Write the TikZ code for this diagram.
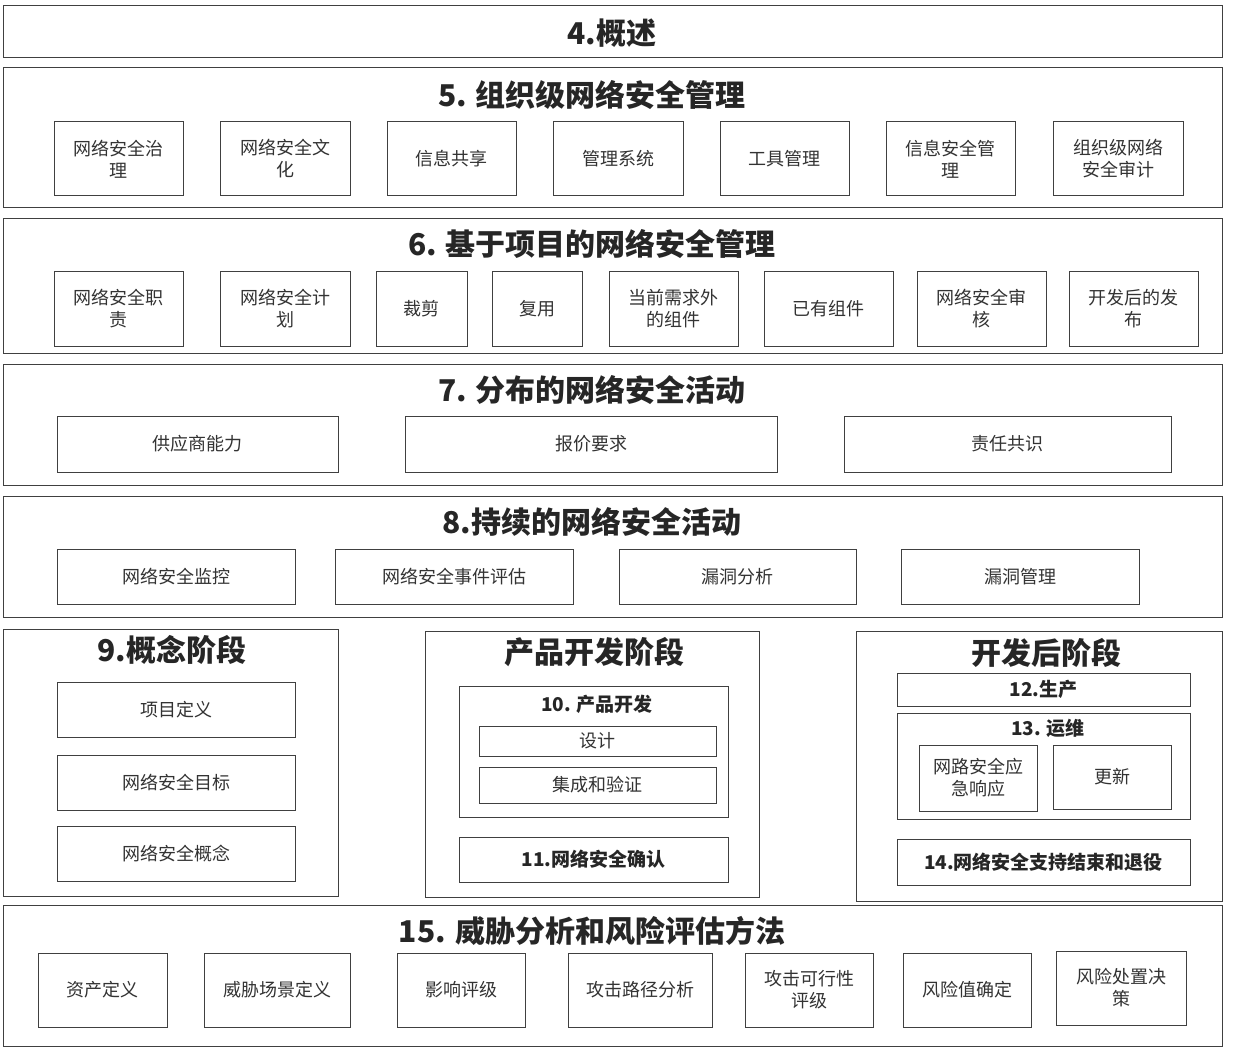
\documentclass[tikz,border=0pt]{standalone}
\usepackage{fontspec}
\setmainfont{Noto Sans CJK SC}
\tikzset{bx/.style={draw=black!75,line width=1pt,fill=white,align=center,inner sep=0pt,text=black!80,font=\fontsize{18}{22}\selectfont},
 big/.style={font=\fontsize{30}{33}\selectfont\bfseries,text=black!85},
 mid/.style={font=\fontsize{19}{23}\selectfont\bfseries,text=black!85}}
\newcommand\B[7][]{%
 \pgfmathsetmacro\cx{(#3+#5)/2}\pgfmathsetmacro\cy{(#4+#6)/2}%
 \pgfmathsetmacro\ww{#5-#3}\pgfmathsetmacro\hh{#6-#4}%
 \node[bx,#1,minimum width=\ww pt,minimum height=\hh pt] (#2) at (\cx,\cy) {#7};}
\newcommand\T[5][big]{\node[#1] (#2) at (#3,#4) {#5};}
\begin{document}
\begin{tikzpicture}[x=1pt,y=-1pt]
\useasboundingbox[fill=white] (0,0) rectangle (1236,1051);
\B{b4}{3}{6}{1222}{58}{}\T{t4}{612}{33}{4.概述}
\B{b5}{3}{68}{1222}{207}{}\T{t5}{592}{95}{5. 组织级网络安全管理}
\B{a1}{54}{122}{183}{196}{网络安全治\\理}
\B{a2}{220}{122}{350}{196}{网络安全文\\化}
\B{a3}{387}{122}{516}{196}{信息共享}
\B{a4}{553}{122}{683}{196}{管理系统}
\B{a5}{720}{122}{849}{196}{工具管理}
\B{a6}{886}{122}{1015}{196}{信息安全管\\理}
\B{a7}{1053}{122}{1183}{196}{组织级网络\\安全审计}
\B{b6}{3}{218}{1222}{353}{}\T{t6}{592}{244}{6. 基于项目的网络安全管理}
\B{c1}{54}{271}{183}{346}{网络安全职\\责}
\B{c2}{220}{271}{350}{346}{网络安全计\\划}
\B{c3}{376}{271}{467}{346}{裁剪}
\B{c4}{492}{271}{582}{346}{复用}
\B{c5}{609}{271}{738}{346}{当前需求外\\的组件}
\B{c6}{764}{271}{893}{346}{已有组件}
\B{c7}{917}{271}{1046}{346}{网络安全审\\核}
\B{c8}{1069}{271}{1198}{346}{开发后的发\\布}
\B{b7}{3}{364}{1222}{485}{}\T{t7}{592}{390}{7. 分布的网络安全活动}
\B{d1}{57}{416}{338}{472}{供应商能力}
\B{d2}{405}{416}{777}{472}{报价要求}
\B{d3}{844}{416}{1171}{472}{责任共识}
\B{b8}{3}{496}{1222}{617}{}\T{t8}{592}{522}{8.持续的网络安全活动}
\B{e1}{57}{549}{295}{604}{网络安全监控}
\B{e2}{335}{549}{573}{604}{网络安全事件评估}
\B{e3}{619}{549}{856}{604}{漏洞分析}
\B{e4}{901}{549}{1139}{604}{漏洞管理}
\B{b9}{3}{629}{338}{896}{}\T{t9}{172}{650}{9.概念阶段}
\B{f1}{57}{682}{295}{737}{项目定义}
\B{f2}{57}{755}{295}{810}{网络安全目标}
\B{f3}{57}{826}{295}{881}{网络安全概念}
\B{bp}{425}{631}{759}{897}{}\T{tp}{594}{652}{产品开发阶段}
\B{b10}{459}{686}{728}{817}{}\T[mid]{t10}{597}{704}{10. 产品开发}
\B{g1}{479}{726}{716}{756}{设计}
\B{g2}{479}{767}{716}{803}{集成和验证}
\B[mid]{b11}{459}{837}{728}{882}{11.网络安全确认}
\B{bq}{856}{631}{1222}{901}{}\T{tq}{1046}{653}{开发后阶段}
\B[mid]{b12}{897}{673}{1190}{706}{12.生产}
\B{b13}{897}{713}{1190}{819}{}\T[mid]{t13}{1048}{728}{13. 运维}
\B{h1}{919}{745}{1037}{811}{网路安全应\\急响应}
\B{h2}{1053}{745}{1171}{809}{更新}
\B[mid]{b14}{897}{839}{1190}{885}{14.网络安全支持结束和退役}
\B{b15}{3}{905}{1222}{1046}{}\T{t15}{592}{931}{15. 威胁分析和风险评估方法}
\B{k1}{38}{953}{167}{1027}{资产定义}
\B{k2}{204}{953}{350}{1027}{威胁场景定义}
\B{k3}{397}{953}{525}{1027}{影响评级}
\B{k4}{568}{953}{712}{1027}{攻击路径分析}
\B{k5}{745}{953}{873}{1027}{攻击可行性\\评级}
\B{k6}{903}{953}{1031}{1027}{风险值确定}
\B{k7}{1056}{951}{1186}{1025}{风险处置决\\策}
\end{tikzpicture}
\end{document}
